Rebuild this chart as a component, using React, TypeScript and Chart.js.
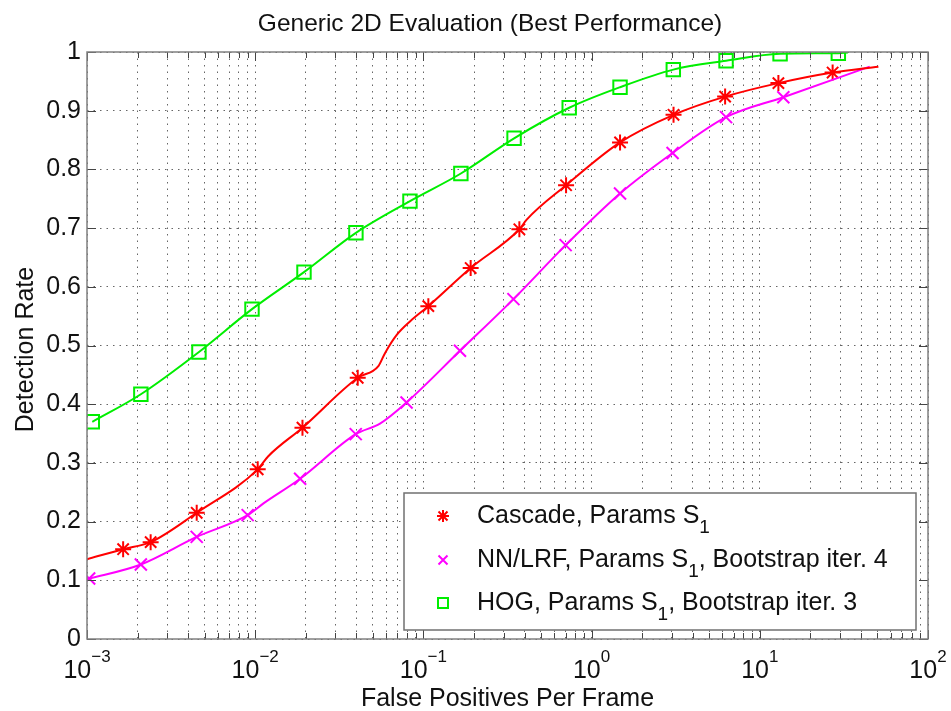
import React, { useEffect, useRef } from 'react';
import { Chart, registerables } from 'chart.js';

Chart.register(...registerables);

const FONT = '"Liberation Sans", Arial, Helvetica, sans-serif';

const titleText = 'Generic 2D Evaluation (Best Performance)';
const xAxisTitle = 'False Positives Per Frame';
const yAxisTitle = 'Detection Rate';

const xTickExponents = [-3, -2, -1, 0, 1, 2];
const xMinorMultipliers = [1, 2, 3, 4, 5, 6, 7, 8, 9];
const yTickValues = [0, 0.1, 0.2, 0.3, 0.4, 0.5, 0.6, 0.7, 0.8, 0.9, 1];

// Cascade, Params S1
const cascadeLabel = 'Cascade, Params S_1';
const cascadeMarkerX = [0.00164, 0.00239, 0.00449, 0.01035, 0.0191, 0.0407, 0.107, 0.191, 0.372, 0.705, 1.476, 3.07, 6.22, 12.9, 27.1];
const cascadeMarkerY = [0.153, 0.165, 0.215, 0.289, 0.36, 0.445, 0.567, 0.632, 0.698, 0.773, 0.846, 0.893, 0.924, 0.947, 0.965];
const cascadeLineX = [0.001, 0.00164, 0.00239, 0.00449, 0.01035, 0.01192, 0.0191, 0.0407, 0.054, 0.0591, 0.0694, 0.0832, 0.107, 0.191, 0.372, 0.41, 0.705, 1.476, 3.07, 6.22, 12.9, 27.1, 50.7];
const cascadeLineY = [0.136, 0.153, 0.165, 0.215, 0.289, 0.311, 0.36, 0.445, 0.465, 0.487, 0.518, 0.541, 0.567, 0.632, 0.698, 0.714, 0.773, 0.846, 0.893, 0.924, 0.947, 0.965, 0.975];

// NN/LRF, Params S1, Bootstrap iter. 4
const nnLabel = 'NN/LRF, Params S_1, Bootstrap iter. 4';
const nnMarkerX = [0.00103, 0.00209, 0.00449, 0.00902, 0.0185, 0.0396, 0.0794, 0.165, 0.343, 0.701, 1.476, 3.03, 6.3, 13.8];
const nnMarkerY = [0.103, 0.127, 0.174, 0.211, 0.273, 0.349, 0.403, 0.491, 0.579, 0.671, 0.759, 0.828, 0.889, 0.923];
const nnLineX = [0.001, 0.00209, 0.00449, 0.00902, 0.0112, 0.0185, 0.0396, 0.0552, 0.0794, 0.165, 0.343, 0.701, 1.476, 3.03, 6.3, 13.8, 45];
const nnLineY = [0.102, 0.127, 0.174, 0.211, 0.231, 0.273, 0.349, 0.367, 0.403, 0.491, 0.579, 0.671, 0.759, 0.828, 0.889, 0.923, 0.975];

// HOG, Params S1, Bootstrap iter. 3
const hogLabel = 'HOG, Params S_1, Bootstrap iter. 3';
const hogMarkerX = [0.001075, 0.00209, 0.00463, 0.00957, 0.0195, 0.0397, 0.0832, 0.167, 0.346, 0.736, 1.476, 3.06, 6.3, 13.2, 29.3];
const hogMarkerY = [0.37, 0.417, 0.489, 0.562, 0.625, 0.692, 0.746, 0.793, 0.853, 0.905, 0.94, 0.97, 0.985, 0.997, 0.998];
const hogLineX = [0.001075, 0.00209, 0.00463, 0.00957, 0.0195, 0.0397, 0.0832, 0.167, 0.346, 0.736, 1.476, 3.06, 6.3, 13.2, 29.3, 33.4];
const hogLineY = [0.37, 0.417, 0.489, 0.562, 0.625, 0.692, 0.746, 0.793, 0.853, 0.905, 0.94, 0.97, 0.985, 0.997, 0.998, 0.999];

const RED = '#ff0000';
const MAGENTA = '#ff00ff';
const GREEN = '#00ee00';

const zip = (xs: number[], ys: number[]) => xs.map((x, i) => ({ x, y: ys[i] }));

const xGridValues: number[] = [];
xTickExponents.forEach((e, idx) => {
  xMinorMultipliers.forEach((m) => {
    if (idx === xTickExponents.length - 1 && m > 1) return;
    xGridValues.push(m * Math.pow(10, e));
  });
});

function drawMarker(ctx: CanvasRenderingContext2D, style: string, x: number, y: number, r: number, color: string, lw: number) {
  ctx.save();
  ctx.strokeStyle = color;
  ctx.lineWidth = lw;
  ctx.beginPath();
  if (style === 'star') {
    ctx.moveTo(x - r, y); ctx.lineTo(x + r, y);
    ctx.moveTo(x, y - r); ctx.lineTo(x, y + r);
    const d = r * 0.75;
    ctx.moveTo(x - d, y - d); ctx.lineTo(x + d, y + d);
    ctx.moveTo(x - d, y + d); ctx.lineTo(x + d, y - d);
  } else if (style === 'cross') {
    ctx.moveTo(x - r, y - r); ctx.lineTo(x + r, y + r);
    ctx.moveTo(x - r, y + r); ctx.lineTo(x + r, y - r);
  } else {
    ctx.rect(x - r, y - r, 2 * r, 2 * r);
  }
  ctx.stroke();
  ctx.restore();
}

function drawRich(ctx: CanvasRenderingContext2D, text: string, x: number, y: number, size: number) {
  const parts = text.split(/_(\S)/);
  let cx = x;
  parts.forEach((p, i) => {
    if (i % 2 === 1) {
      ctx.font = `${size * 0.76}px ${FONT}`;
      ctx.fillText(p, cx, y + 10);
      cx += ctx.measureText(p).width;
    } else {
      ctx.font = `${size}px ${FONT}`;
      ctx.fillText(p, cx, y);
      cx += ctx.measureText(p).width;
    }
  });
}

const legendItems = [
  { label: cascadeLabel, style: 'star', color: RED, r: 6 },
  { label: nnLabel, style: 'cross', color: MAGENTA, r: 4.5 },
  { label: hogLabel, style: 'square', color: GREEN, r: 5 },
];

const decorPlugin = {
  id: 'decor',
  afterDatasetsDraw(chart: any) {
    const { ctx, chartArea: a } = chart;
    const xs = chart.scales.x;
    const ys = chart.scales.y;
    ctx.save();

    // ticks (inward)
    ctx.strokeStyle = '#444';
    ctx.lineWidth = 1;
    ctx.beginPath();
    xGridValues.forEach((v) => {
      const px = Math.round(xs.getPixelForValue(v)) + 0.5;
      const major = Math.abs(Math.log10(v) - Math.round(Math.log10(v))) < 1e-9;
      const len = major ? 9 : 6;
      ctx.moveTo(px, a.bottom); ctx.lineTo(px, a.bottom - len);
      ctx.moveTo(px, a.top); ctx.lineTo(px, a.top + len);
    });
    yTickValues.forEach((v) => {
      const py = Math.round(ys.getPixelForValue(v)) + 0.5;
      ctx.moveTo(a.left, py); ctx.lineTo(a.left + 9, py);
      ctx.moveTo(a.right, py); ctx.lineTo(a.right - 9, py);
    });
    ctx.stroke();

    // box
    ctx.strokeStyle = '#808080';
    ctx.lineWidth = 1.5;
    ctx.strokeRect(a.left, a.top, a.right - a.left, a.bottom - a.top);

    // x tick labels 10^e
    ctx.fillStyle = '#111';
    ctx.textBaseline = 'alphabetic';
    ctx.textAlign = 'left';
    xTickExponents.forEach((e) => {
      const px = xs.getPixelForValue(Math.pow(10, e));
      const base = '10';
      const exp = e < 0 ? '\u2212' + Math.abs(e) : String(e);
      ctx.font = `25px ${FONT}`;
      const wb = ctx.measureText(base).width;
      ctx.font = `17px ${FONT}`;
      const we = ctx.measureText(exp).width;
      const start = px - (wb + we) / 2;
      ctx.font = `25px ${FONT}`;
      ctx.fillText(base, start, a.bottom + 39);
      ctx.font = `17px ${FONT}`;
      ctx.fillText(exp, start + wb, a.bottom + 23);
    });

    // title
    ctx.textAlign = 'center';
    ctx.font = `24.5px ${FONT}`;
    ctx.fillText(titleText, 490, 31);

    // x axis title
    ctx.font = `25px ${FONT}`;
    ctx.fillText(xAxisTitle, (a.left + a.right) / 2, 706);

    // y axis title
    ctx.save();
    ctx.translate(33, (a.top + a.bottom) / 2 + 4);
    ctx.rotate(-Math.PI / 2);
    ctx.fillText(yAxisTitle, 0, 0);
    ctx.restore();

    // legend
    const lx = a.right - 524;
    const ly = a.bottom - 146;
    ctx.fillStyle = '#fff';
    ctx.fillRect(lx, ly, 512, 137);
    ctx.strokeStyle = '#707070';
    ctx.lineWidth = 1.5;
    ctx.strokeRect(lx, ly, 512, 137);
    ctx.fillStyle = '#111';
    ctx.textAlign = 'left';
    const baselines = [30, 74, 117];
    legendItems.forEach((it, i) => {
      drawMarker(ctx, it.style, lx + 39, ly + baselines[i] - 7, it.r, it.color, 2);
      drawRich(ctx, it.label, lx + 73, ly + baselines[i], 25);
    });

    ctx.restore();
  },
};

export default function App() {
  const ref = useRef<HTMLCanvasElement | null>(null);
  useEffect(() => {
    if (!ref.current) return;
    const lineDs = (label: string, xs: number[], ys: number[], color: string) => ({
      type: 'line',
      label,
      data: zip(xs, ys),
      borderColor: color,
      borderWidth: 2,
      pointRadius: 0,
      fill: false,
      cubicInterpolationMode: 'monotone',
      showLine: true,
    });
    const markDs = (label: string, xs: number[], ys: number[], color: string, style: string, r: number) => ({
      type: 'line',
      label,
      data: zip(xs, ys),
      borderColor: color,
      backgroundColor: 'rgba(0,0,0,0)',
      pointBorderColor: color,
      pointBackgroundColor: 'rgba(0,0,0,0)',
      pointStyle: style,
      pointRadius: r,
      pointBorderWidth: 2,
      showLine: false,
    });
    const chart = new Chart(ref.current, {
      type: 'line',
      data: {
        datasets: [
          lineDs(cascadeLabel + ' line', cascadeLineX, cascadeLineY, RED),
          lineDs(nnLabel + ' line', nnLineX, nnLineY, MAGENTA),
          lineDs(hogLabel + ' line', hogLineX, hogLineY, GREEN),
          markDs(cascadeLabel, cascadeMarkerX, cascadeMarkerY, RED, 'star', 8),
          markDs(nnLabel, nnMarkerX, nnMarkerY, MAGENTA, 'crossRot', 8.5),
          markDs(hogLabel, hogMarkerX, hogMarkerY, GREEN, 'rect', 9.5),
        ] as any,
      },
      options: {
        animation: false,
        responsive: false,
        maintainAspectRatio: false,
        layout: { padding: { top: 52, right: 23, left: 0, bottom: 0 } },
        plugins: {
          legend: { display: false },
          title: { display: false },
          tooltip: { enabled: false },
        },
        scales: {
          x: {
            type: 'logarithmic',
            min: 1e-3,
            max: 1e2,
            afterBuildTicks: (s: any) => {
              s.ticks = xGridValues.map((v) => ({ value: v }));
            },
            afterFit: (s: any) => {
              s.height = 72;
            },
            ticks: { display: false, autoSkip: false },
            grid: { color: 'rgba(0,0,0,0.6)', lineWidth: 1, drawTicks: false },
            border: { display: false, dash: [1.5, 5] },
          },
          y: {
            type: 'linear',
            min: 0,
            max: 1,
            afterBuildTicks: (s: any) => {
              s.ticks = yTickValues.map((v) => ({ value: v }));
            },
            afterFit: (s: any) => {
              s.width = 87;
            },
            ticks: {
              autoSkip: false,
              padding: 6,
              color: '#111',
              font: { family: FONT, size: 25 },
              callback: (v: any) => String(v),
            },
            grid: { color: 'rgba(0,0,0,0.6)', lineWidth: 1, drawTicks: false },
            border: { display: false, dash: [1.5, 5] },
          },
        },
      } as any,
      plugins: [decorPlugin],
    });
    return () => chart.destroy();
  }, []);
  return (
    <div style={{ position: 'absolute', left: 0, top: 0, width: 951, height: 711, background: '#fff' }}>
      <canvas ref={ref} width={951} height={711} style={{ width: 951, height: 711, display: 'block' }} />
    </div>
  );
}
